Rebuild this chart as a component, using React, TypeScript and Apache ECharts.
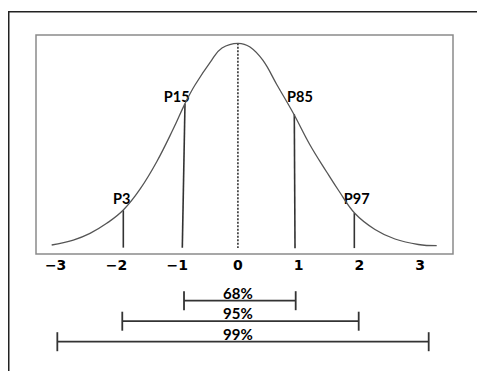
import React, { useEffect, useRef } from "react";
import * as echarts from "echarts";

// Bell curve (x in SD units, y as % of plot height)
const curveX = [-3.065, -2.709, -2.434, -2.159, -1.886, -1.611, -1.336, -1.063, -0.871, -0.706, -0.431, -0.262, 0.002, 0.199, 0.413, 0.639, 0.912, 1.187, 1.461, 1.652, 1.927, 2.256, 2.585, 2.969, 3.272];
const curveY = [4.11, 6.39, 9.45, 14.02, 20.09, 29.63, 42.15, 57.17, 68.68, 77.17, 88.58, 94.06, 96.21, 94.52, 88.36, 77.4, 64.25, 49.77, 37.44, 29.22, 18.49, 11.19, 6.85, 4.34, 3.79];

// Percentile markers
const percentileNames = ["P3", "P15", "P85", "P97"];
const percentileTopX = [-1.886, -0.871, 0.928, 1.916];
const percentileTopY = [20.0, 68.6, 63.8, 18.7];
const percentileBaseX = [-1.886, -0.915, 0.94, 1.916];
const percentileBaseY = [2.9, 2.9, 2.6, 2.7];
const percentileLabelX = [-1.912, -1.007, 1.022, 1.955];
const percentileLabelY = [25.4, 71.8, 71.8, 25.4];

// Mean (dotted) line
const meanX = [0];
const meanTopY = [96.2];
const meanBaseY = [2.7];

// Coverage intervals
const intervalNames = ["68%", "95%", "99%"];
const intervalLow = [-0.887, -1.903, -2.972];
const intervalHigh = [0.951, 1.988, 3.14];
const intervalRow = [1, 2, 3];

// Axis tick labels
const tickValues = [-3, -2, -1, 0, 1, 2, 3];

const X_MIN = -3.323;
const X_MAX = 3.54;

export default function App() {
  const ref = useRef<HTMLDivElement>(null);
  useEffect(() => {
    document.body.style.margin = "0";
    const chart = echarts.init(ref.current!, null, { renderer: "svg" });
    const curveData = curveX.map((x, i) => [x, curveY[i]]);
    const pctData = percentileNames.map((n, i) => [percentileTopX[i], percentileTopY[i], percentileBaseX[i], percentileBaseY[i], percentileLabelX[i], percentileLabelY[i]]);
    const meanData = meanX.map((x, i) => [x, meanTopY[i], meanBaseY[i]]);
    const intData = intervalNames.map((n, i) => [intervalLow[i], intervalHigh[i], intervalRow[i]]);

    const option: any = {
      animation: false,
      backgroundColor: "#fff",
      grid: [
        { left: 36, right: 24, top: 35, height: 219, show: true, borderColor: "#8a8a8a", borderWidth: 1.5, backgroundColor: "transparent" },
        { left: 36, right: 24, top: 280.2, height: 82, show: false },
      ],
      xAxis: [
        {
          type: "value", gridIndex: 0, min: X_MIN, max: X_MAX,
          axisLine: { show: false }, axisTick: { show: false }, splitLine: { show: false },
          axisLabel: {
            show: true, customValues: tickValues, margin: 4,
            formatter: (v: number) => String(v).replace("-", "\u2212"),
            fontFamily: "DejaVu Sans", fontWeight: "bold", fontSize: 14, color: "#000",
          },
        },
        { type: "value", gridIndex: 1, min: X_MIN, max: X_MAX, show: false },
      ],
      yAxis: [
        { type: "value", gridIndex: 0, min: 0, max: 100, show: false },
        { type: "value", gridIndex: 1, min: 0, max: 4, inverse: true, show: false },
      ],
      graphic: [
        {
          type: "rect", left: 8, top: 11, z: -10, silent: true,
          shape: { x: 0, y: 0, width: 472, height: 400 },
          style: { fill: "transparent", stroke: "#222", lineWidth: 1.5 },
        },
      ],
      series: [
        {
          type: "line", xAxisIndex: 0, yAxisIndex: 0, data: curveData, smooth: 0.4,
          showSymbol: false, symbol: "none", lineStyle: { color: "#555", width: 1.3 },
        },
        {
          type: "custom", xAxisIndex: 0, yAxisIndex: 0, data: meanData,
          renderItem: (params: any, api: any) => {
            const top = api.coord([api.value(0), api.value(1)]);
            const bot = api.coord([api.value(0), api.value(2)]);
            return {
              type: "line",
              shape: { x1: top[0], y1: top[1], x2: bot[0], y2: bot[1] },
              style: { stroke: "#333", lineWidth: 1.6, lineDash: [2, 1.5] },
            };
          },
        },
        {
          type: "custom", xAxisIndex: 0, yAxisIndex: 0, data: pctData,
          renderItem: (params: any, api: any) => {
            const top = api.coord([api.value(0), api.value(1)]);
            const bot = api.coord([api.value(2), api.value(3)]);
            const lab = api.coord([api.value(4), api.value(5)]);
            return {
              type: "group",
              children: [
                {
                  type: "line",
                  shape: { x1: top[0], y1: top[1], x2: bot[0], y2: bot[1] },
                  style: { stroke: "#333", lineWidth: 1.6 },
                },
                {
                  type: "text", x: lab[0], y: lab[1],
                  style: {
                    text: percentileNames[params.dataIndex], fill: "#000",
                    font: "bold 14.5px Lato", align: "center", verticalAlign: "middle",
                  },
                },
              ],
            };
          },
        },
        {
          type: "custom", xAxisIndex: 1, yAxisIndex: 1, data: intData,
          renderItem: (params: any, api: any) => {
            const l = api.coord([api.value(0), api.value(2)]);
            const r = api.coord([api.value(1), api.value(2)]);
            const mid = api.coord([0, api.value(2)]);
            const h = 9.5;
            const st = { stroke: "#333", lineWidth: 1.8 };
            return {
              type: "group",
              children: [
                { type: "line", shape: { x1: l[0], y1: l[1], x2: r[0], y2: r[1] }, style: st },
                { type: "line", shape: { x1: l[0], y1: l[1] - h, x2: l[0], y2: l[1] + h }, style: st },
                { type: "line", shape: { x1: r[0], y1: r[1] - h, x2: r[0], y2: r[1] + h }, style: st },
                {
                  type: "text", x: mid[0], y: mid[1] - 8,
                  style: {
                    text: intervalNames[params.dataIndex], fill: "#000",
                    font: "bold 15px Lato", align: "center", verticalAlign: "middle",
                  },
                },
              ],
            };
          },
        },
      ],
    };
    chart.setOption(option);
    return () => chart.dispose();
  }, []);
  return <div ref={ref} style={{ width: 477, height: 371 }} />;
}
